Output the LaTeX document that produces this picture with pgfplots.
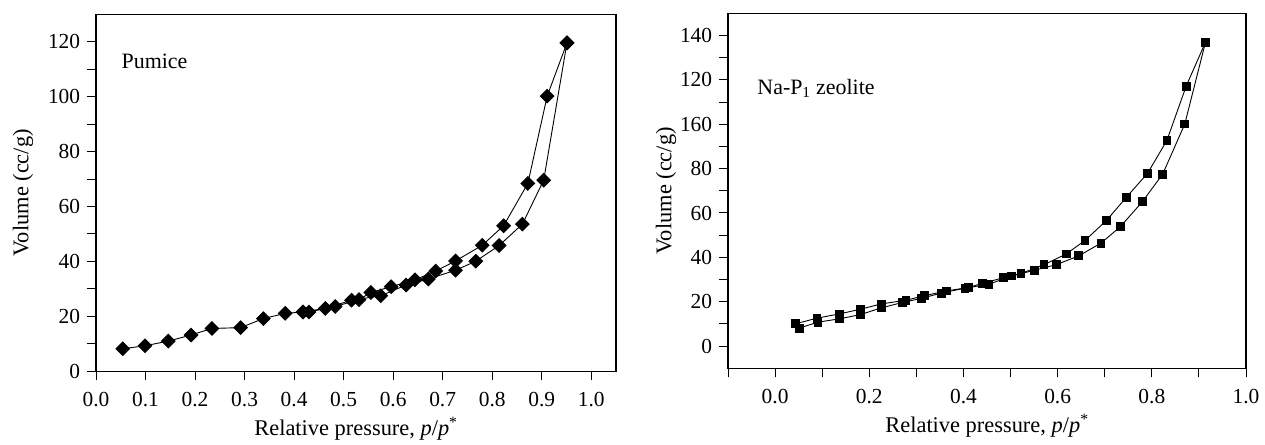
\documentclass[border=0pt]{standalone}
\usepackage{fontspec}
\setmainfont{Liberation Serif}
\usepackage{pgfplots}
\pgfplotsset{compat=1.18}
\begin{document}
\fontsize{20}{24}\selectfont
\begin{tikzpicture}
\useasboundingbox (0,0) rectangle (1265bp,445bp);
\pgfplotsset{
  isostyle/.style={
    scale only axis,
    anchor=south west,
    axis line style={line width=1.1bp},
    every tick/.style={line width=1bp, black},
    major tick length=9bp,
    minor tick length=9bp,
    tick align=outside,
    xtick pos=bottom,
    ytick pos=left,
    ticklabel style={font=\fontsize{21.5}{24}\selectfont},
    xticklabel style={yshift=-5bp},
    every axis x label/.style={at={(axis description cs:0.5,0)}, anchor=base, yshift=-64bp, font=\fontsize{22.5}{26}\selectfont},
    xlabel={Relative pressure, \textit{p}/\textit{p}\textsuperscript{*}},
    ylabel={Volume (cc/g)},
    clip=false,
  },
  br/.style={black, line width=0.9bp, mark=square*, mark size=3.9bp, mark options={solid, fill=black}},
  bd/.style={black, line width=0.9bp, mark=square*, mark size=4.8bp, mark options={solid, fill=black, rotate=45}},
}
% ---------- Left: Pumice ----------
\begin{axis}[isostyle,
  at={(96bp,73.7bp)}, width=520bp, height=357bp,
  xmin=0, xmax=1.05, ymin=0, ymax=130,
  every axis y label/.style={at={(axis description cs:0,0.5)}, xshift=-73bp, rotate=90, anchor=center, font=\fontsize{22.5}{26}\selectfont},
  xtick={0,0.1,0.2,0.3,0.4,0.5,0.6,0.7,0.8,0.9,1.0},
  xticklabels={0.0,0.1,0.2,0.3,0.4,0.5,0.6,0.7,0.8,0.9,1.0},
  ytick={0,20,40,60,80,100,120},
  yticklabels={0,20,40,60,80,100,120},
  minor ytick={10,30,50,70,90,110},
]
\addplot[bd] coordinates {
(0.054,8.2)(0.099,9.3)(0.146,11.0)(0.192,13.2)(0.234,15.6)(0.292,15.9)
(0.338,19.2)(0.382,21.1)(0.418,21.6)(0.463,22.9)(0.516,25.9)(0.575,27.5)
(0.626,31.4)(0.671,33.6)(0.726,36.8)(0.767,40.1)(0.814,45.8)(0.861,53.6)
(0.904,69.6)(0.951,119.6)};
\addplot[bd] coordinates {
(0.951,119.6)(0.911,100.2)(0.872,68.4)(0.823,53.0)(0.780,45.9)(0.726,40.2)
(0.686,36.5)(0.644,33.3)(0.596,30.8)(0.555,28.7)(0.531,26.1)(0.483,23.6)
(0.430,21.6)(0.418,21.6)};
\node[anchor=west, font=\fontsize{22}{26}\selectfont] at (axis cs:0.038,113) {Pumice};
\end{axis}
% ---------- Right: Na-P1 zeolite ----------
\begin{axis}[isostyle,
  at={(728bp,76.7bp)}, width=518bp, height=355bp,
  xmin=-0.1, xmax=1.0, ymin=-10, ymax=150,
  every axis y label/.style={at={(axis description cs:0,0.5)}, xshift=-62bp, rotate=90, anchor=center, font=\fontsize{22.5}{26}\selectfont},
  xtick={0,0.2,0.4,0.6,0.8,1.0},
  xticklabels={0.0,0.2,0.4,0.6,0.8,1.0},
  minor xtick={-0.1,0.1,0.3,0.5,0.7,0.9},
  ytick={0,20,40,60,80,100,120,140},
  yticklabels={0,20,40,60,80,160,120,140},
  minor ytick={10,30,50,70,90,110,130},
]
\addplot[br] coordinates {
(0.051,8.1)(0.091,10.8)(0.137,12.3)(0.181,14.2)(0.225,17.2)(0.271,19.7)
(0.310,21.5)(0.353,23.9)(0.403,26.1)(0.454,27.9)(0.502,31.6)(0.551,34.2)
(0.597,36.7)(0.645,40.7)(0.692,46.4)(0.733,53.8)(0.780,65.1)(0.823,77.5)
(0.870,100.1)(0.914,137.0)};
\addplot[br] coordinates {
(0.914,137.0)(0.873,117.2)(0.832,92.7)(0.791,77.9)(0.746,67.1)(0.704,56.7)
(0.658,47.6)(0.618,41.5)(0.571,36.7)(0.522,32.7)(0.485,30.8)(0.440,28.3)
(0.411,26.4)(0.364,24.9)(0.317,22.7)(0.278,20.7)(0.225,19.0)(0.181,16.6)
(0.136,14.5)(0.089,12.6)(0.044,10.1)};
\node[anchor=west, font=\fontsize{22}{26}\selectfont] at (axis cs:-0.052,116) {Na-P\textsubscript{1} zeolite};
\end{axis}
\end{tikzpicture}
\end{document}
